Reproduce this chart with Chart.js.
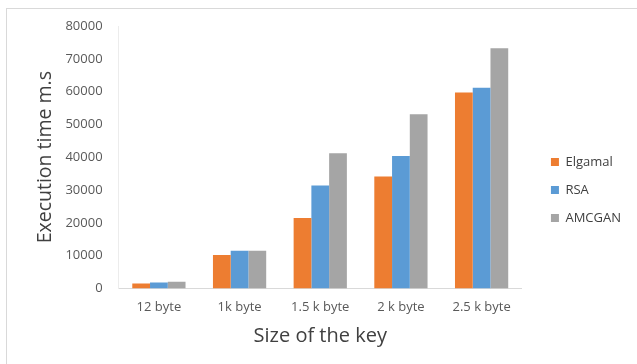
<!DOCTYPE html>
<html>
<head>
<meta charset="utf-8">
<script src="https://cdn.jsdelivr.net/npm/chart.js@4"></script>
<style>
  html, body { margin: 0; padding: 0; background: #fff; }
  .wrap { position: relative; width: 637px; height: 364px; }
  .frame { position: absolute; left: 6px; top: 8px; right: -2px; bottom: -2px; border: 1px solid #d9d9d9; pointer-events: none; }
</style>
</head>
<body>
<div class="wrap">
  <canvas id="myChart" width="637" height="364"></canvas>
  <div class="frame"></div>
</div>
<script>
// key sizes on the x axis
const keySizes = ['12 byte', '1k byte', '1.5 k byte', '2 k byte', '2.5 k byte'];

// execution time (m.s) per algorithm
const elgamalTimes = [1500, 10200, 21500, 34100, 59700];
const rsaTimes = [1800, 11500, 31400, 40400, 61200];
const amcganTimes = [2000, 11500, 41200, 53100, 73200];

const yTicks = [0, 10000, 20000, 30000, 40000, 50000, 60000, 70000, 80000];

// nudge the legend to where Excel put it
const legendShift = {
    id: 'legendShift',
    afterLayout(chart) {
        const lg = chart.legend;
        lg.left += 14; lg.right += 14;
        lg.top += 3; lg.bottom += 3;
    }
};

document.addEventListener('DOMContentLoaded', () => {
    const ctx = document.getElementById('myChart').getContext('2d');

    new Chart(ctx, {
        type: 'bar',
        data: {
            labels: keySizes,
            datasets: [
                { label: 'Elgamal', data: elgamalTimes, backgroundColor: '#ED7D31' },
                { label: 'RSA', data: rsaTimes, backgroundColor: '#5B9BD5' },
                { label: 'AMCGAN', data: amcganTimes, backgroundColor: '#A5A5A5' }
            ]
        },
        options: {
            responsive: false,
            animation: false,
            categoryPercentage: 0.66,
            barPercentage: 1.0,
            layout: { padding: { left: 34, top: 26, right: 20, bottom: 16 } },
            plugins: {
                tooltip: { enabled: false },
                legend: {
                    position: 'right',
                    labels: {
                        boxWidth: 8,
                        boxHeight: 8,
                        padding: 15,
                        color: '#404040',
                        font: { family: 'Open Sans', size: 13 }
                    }
                }
            },
            scales: {
                x: {
                    grid: { display: false, drawTicks: false },
                    border: { color: '#d9d9d9' },
                    ticks: {
                        color: '#595959',
                        padding: 11,
                        font: { family: 'Open Sans', size: 13 }
                    },
                    title: {
                        display: true,
                        text: 'Size of the key',
                        color: '#404040',
                        font: { family: 'Open Sans', size: 20 },
                        padding: { top: -2, bottom: 0 }
                    }
                },
                y: {
                    min: 0,
                    max: 80000,
                    afterBuildTicks: axis => { axis.ticks = yTicks.map(v => ({ value: v })); },
                    grid: { display: false, drawTicks: false },
                    border: { color: '#ececec' },
                    ticks: {
                        color: '#595959',
                        padding: 16,
                        callback: v => String(v),
                        font: { family: 'Open Sans', size: 13 }
                    },
                    title: {
                        display: true,
                        text: 'Execution time m.s',
                        color: '#404040',
                        font: { family: 'Open Sans', size: 19.5 },
                        padding: { top: 0, bottom: -8 }
                    }
                }
            }
        },
        plugins: [legendShift]
    });
});
</script>
</body>
</html>
